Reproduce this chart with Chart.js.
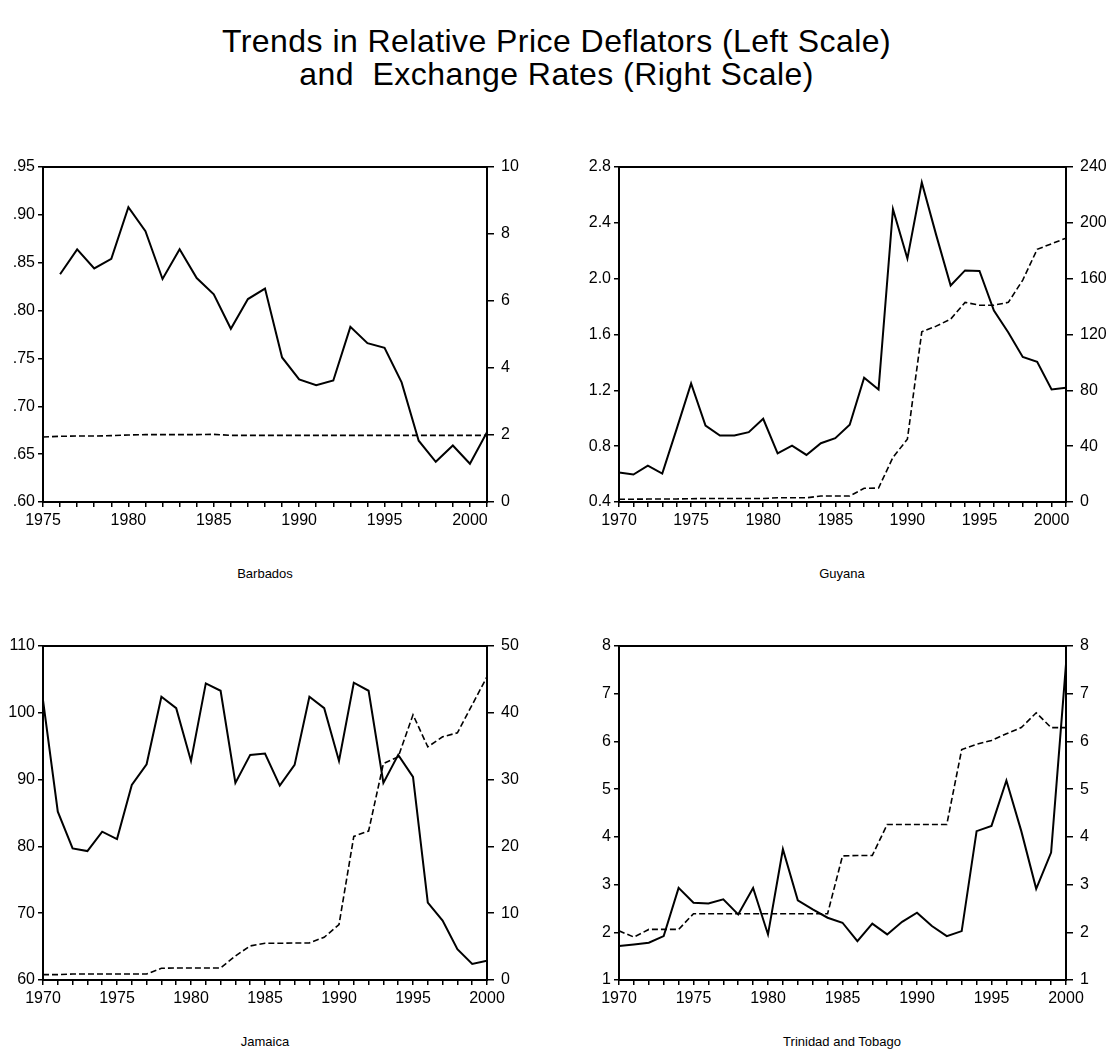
<!DOCTYPE html>
<html>
<head>
<meta charset="utf-8">
<title>Trends in Relative Price Deflators and Exchange Rates</title>
<script src="https://cdn.jsdelivr.net/npm/chart.js@4.4.0/dist/chart.umd.min.js"></script>
<style>
  body { margin: 0; background: #fff; width: 1113px; height: 1057px; position: relative; overflow: hidden;
         font-family: "Liberation Sans", Arial, sans-serif; color: #000; }
  .title { position: absolute; left: 0; top: 25px; width: 1113px; text-align: center;
           font-size: 32px; line-height: 33px; letter-spacing: 0.45px; white-space: pre; }
  .panel { position: absolute; height: 420px; }
  .label { position: absolute; width: 300px; text-align: center; font-size: 13px; line-height: 16px; }
</style>
</head>
<body>
<div class="title">Trends in Relative Price Deflators (Left Scale)
and  Exchange Rates (Right Scale)</div>

<div class="panel" style="left:0;top:130px;width:556px"><canvas id="barbados"></canvas></div>
<div class="panel" style="left:556px;top:130px;width:557px"><canvas id="guyana"></canvas></div>
<div class="panel" style="left:0;top:610px;width:556px"><canvas id="jamaica"></canvas></div>
<div class="panel" style="left:556px;top:610px;width:557px"><canvas id="trinidad"></canvas></div>

<div class="label" style="left:115px;top:566px">Barbados</div>
<div class="label" style="left:692px;top:566px">Guyana</div>
<div class="label" style="left:115px;top:1034px">Jamaica</div>
<div class="label" style="left:692px;top:1034px">Trinidad and Tobago</div>

<script>
// Barbados
const barbadosYears = [1975, 1976, 1977, 1978, 1979, 1980, 1981, 1982, 1983, 1984, 1985, 1986, 1987, 1988,
  1989, 1990, 1991, 1992, 1993, 1994, 1995, 1996, 1997, 1998, 1999, 2000, 2001];
const barbadosDeflator = [null, .838, .864, .844, .854, .908, .883, .833, .864, .834, .817, .781, .812, .823,
  .751, .728, .722, .727, .783, .766, .761, .725, .664, .642, .659, .640, .673];
const barbadosRate = [1.94, 1.96, 1.97, 1.97, 1.98, 2.0, 2.01, 2.01, 2.01, 2.01, 2.02, 1.99, 1.99, 1.99,
  1.99, 1.99, 1.99, 1.99, 1.99, 1.99, 1.99, 1.99, 1.99, 1.99, 1.99, 1.99, 1.99];

// Guyana
const guyanaYears = [1970, 1971, 1972, 1973, 1974, 1975, 1976, 1977, 1978, 1979, 1980, 1981, 1982, 1983,
  1984, 1985, 1986, 1987, 1988, 1989, 1990, 1991, 1992, 1993, 1994, 1995, 1996, 1997, 1998, 1999, 2000, 2001];
const guyanaDeflator = [0.612, 0.597, 0.66, 0.604, 0.924, 1.249, 0.948, 0.876, 0.876, 0.90,
  0.996, 0.749, 0.804, 0.737, 0.821, 0.857, 0.953, 1.29, 1.206, 2.497,
  2.144, 2.689, 2.312, 1.951, 2.059, 2.055, 1.771, 1.614, 1.439, 1.405, 1.206, 1.218];
const guyanaRate = [2.0, 2.0, 2.1, 2.1, 2.2, 2.3, 2.55, 2.55, 2.55, 2.55,
  2.55, 3.0, 3.0, 3.0, 4.25, 4.25, 4.3, 9.8, 10.0, 32,
  45, 122, 126, 131, 143, 141, 141, 143, 159, 181, 185, 189];

// Jamaica
const jamaicaYears = [1970, 1971, 1972, 1973, 1974, 1975, 1976, 1977, 1978, 1979, 1980, 1981, 1982, 1983,
  1984, 1985, 1986, 1987, 1988, 1989, 1990, 1991, 1992, 1993, 1994, 1995, 1996, 1997, 1998, 1999, 2000];
const jamaicaDeflator = [101.9, 85.2, 79.7, 79.3, 82.2, 81.1, 89.2, 92.3, 102.4, 100.7,
  92.8, 104.4, 103.3, 89.5, 93.7, 93.9, 89.1, 92.2, 102.4, 100.7,
  92.8, 104.5, 103.3, 89.5, 93.7, 90.4, 71.6, 68.9, 64.6, 62.4, 62.9];
const jamaicaRate = [0.8, 0.8, 0.9, 0.9, 0.9, 0.9, 0.9, 0.9, 1.75, 1.8,
  1.8, 1.8, 1.8, 3.6, 5.1, 5.5, 5.5, 5.55, 5.55, 6.4,
  8.3, 21.5, 22.3, 32.4, 33.4, 39.7, 34.9, 36.4, 37.0, 41.2, 45.4];

// Trinidad and Tobago
const trinidadYears = [1970, 1971, 1972, 1973, 1974, 1975, 1976, 1977, 1978, 1979, 1980, 1981, 1982, 1983,
  1984, 1985, 1986, 1987, 1988, 1989, 1990, 1991, 1992, 1993, 1994, 1995, 1996, 1997, 1998, 1999, 2000];
const trinidadDeflator = [1.71, 1.745, 1.78, 1.92, 2.93, 2.62, 2.605, 2.69, 2.375, 2.93,
  1.955, 3.74, 2.67, 2.48, 2.305, 2.2, 1.815, 2.18, 1.955, 2.22,
  2.41, 2.13, 1.92, 2.025, 4.12, 4.23, 5.18, 4.12, 2.91, 3.67, 7.62];
const trinidadRate = [2.03, 1.9, 2.06, 2.06, 2.06, 2.39, 2.39, 2.39, 2.39, 2.39,
  2.39, 2.39, 2.39, 2.39, 2.39, 3.6, 3.61, 3.61, 4.26, 4.26,
  4.26, 4.26, 4.26, 5.83, 5.94, 6.02, 6.16, 6.29, 6.6, 6.29, 6.29];

// box round the plot area (top edge has no axis)
const frame = {
  id: 'frame',
  afterDraw(chart) {
    const a = chart.chartArea, ctx = chart.ctx;
    ctx.save();
    ctx.strokeStyle = '#000';
    ctx.lineWidth = 2;
    ctx.strokeRect(a.left, a.top, a.right - a.left, a.bottom - a.top);
    ctx.restore();
  }
};

const tickFont = { family: '"Liberation Sans", Arial, sans-serif', size: 16 };

function points(years, values) {
  return years.map((y, i) => ({ x: y, y: values[i] }));
}

function makePanel(id, p) {
  new Chart(id, {
    type: 'line',
    data: {
      datasets: [{
        data: points(p.years, p.deflator),
        yAxisID: 'y',
        borderColor: '#000',
        borderWidth: 2,
        pointRadius: 0,
        tension: 0
      }, {
        data: points(p.years, p.rate),
        yAxisID: 'y1',
        borderColor: '#000',
        borderWidth: 1.6,
        borderDash: [6, 3],
        pointRadius: 0,
        tension: 0
      }]
    },
    options: {
      responsive: false,
      animation: false,
      devicePixelRatio: 1,
      layout: { padding: { top: p.top, left: 0, right: 0, bottom: 0 } },
      plugins: { legend: { display: false }, tooltip: { enabled: false } },
      scales: {
        x: {
          type: 'linear', min: p.years[0], max: p.years[p.years.length - 1],
          afterFit: s => { s.height = p.xH; },
          grid: { drawOnChartArea: false, tickLength: 5, color: '#000', lineWidth: 1.5 },
          border: { display: true, color: '#000', width: 2 },
          ticks: { stepSize: 1, autoSkip: false, maxRotation: 0, padding: 4, color: '#000', font: tickFont,
                   callback: v => (v % 5 === 0 ? String(v) : '') }
        },
        y: {
          position: 'left', min: p.left.min, max: p.left.max,
          afterFit: s => { s.width = p.leftW; },
          grid: { drawOnChartArea: false, tickLength: 5, color: '#000', lineWidth: 1.5 },
          border: { display: true, color: '#000', width: 2 },
          ticks: { stepSize: p.left.step, padding: 3, color: '#000', font: tickFont, callback: p.left.fmt }
        },
        y1: {
          position: 'right', min: p.right.min, max: p.right.max,
          afterFit: s => { s.width = p.rightW; },
          grid: { drawOnChartArea: false, tickLength: 7, color: '#000', lineWidth: 1.5 },
          border: { display: true, color: '#000', width: 2 },
          ticks: { stepSize: p.right.step, padding: 7, color: '#000', font: tickFont, callback: p.right.fmt }
        }
      }
    },
    plugins: [frame]
  });
}

function sizeCanvas(id, w, h) {
  const c = document.getElementById(id);
  c.width = w; c.height = h;
  c.style.width = w + 'px'; c.style.height = h + 'px';
}
sizeCanvas('barbados', 556, 420);
sizeCanvas('guyana', 557, 420);
sizeCanvas('jamaica', 556, 420);
sizeCanvas('trinidad', 557, 420);

const dotFmt = v => v.toFixed(2).replace(/^0/, '');
const oneDec = v => v.toFixed(1);
const whole = v => String(Math.round(v));

makePanel('barbados', {
  years: barbadosYears, deflator: barbadosDeflator, rate: barbadosRate,
  top: 37, xH: 48, leftW: 43, rightW: 69,
  left: { min: 0.6, max: 0.95, step: 0.05, fmt: dotFmt },
  right: { min: 0, max: 10, step: 2, fmt: whole }
});
makePanel('guyana', {
  years: guyanaYears, deflator: guyanaDeflator, rate: guyanaRate,
  top: 37, xH: 48, leftW: 63, rightW: 47,
  left: { min: 0.4, max: 2.8, step: 0.4, fmt: oneDec },
  right: { min: 0, max: 240, step: 40, fmt: whole }
});
makePanel('jamaica', {
  years: jamaicaYears, deflator: jamaicaDeflator, rate: jamaicaRate,
  top: 36, xH: 50, leftW: 43, rightW: 69,
  left: { min: 60, max: 110, step: 10, fmt: whole },
  right: { min: 0, max: 50, step: 10, fmt: whole }
});
makePanel('trinidad', {
  years: trinidadYears, deflator: trinidadDeflator, rate: trinidadRate,
  top: 36, xH: 50, leftW: 63, rightW: 47,
  left: { min: 1, max: 8, step: 1, fmt: whole },
  right: { min: 1, max: 8, step: 1, fmt: whole }
});
</script>
</body>
</html>
